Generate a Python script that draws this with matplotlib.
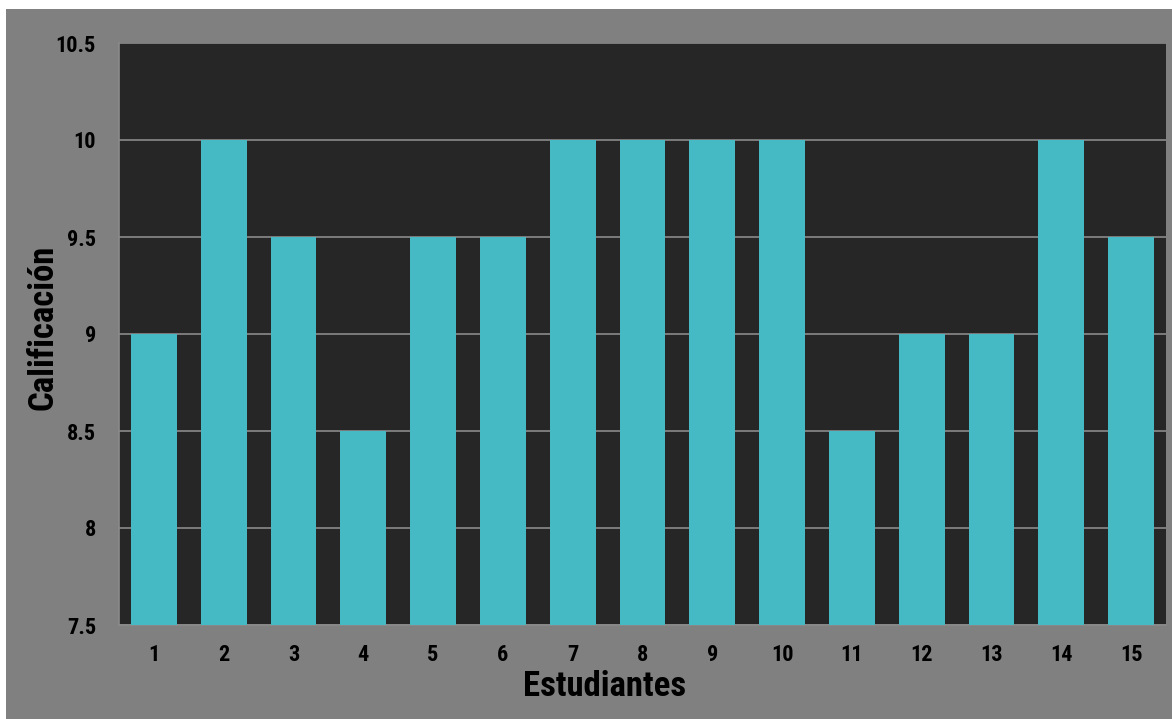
import matplotlib
matplotlib.use("Agg")
import matplotlib.pyplot as plt
from matplotlib.patches import Rectangle

estudiantes = [str(i) for i in range(1, 16)]
calificaciones = [9, 10, 9.5, 8.5, 9.5, 9.5, 10, 10, 10, 10, 8.5, 9, 9, 10, 9.5]
y_ticks = [7.5, 8, 8.5, 9, 9.5, 10, 10.5]
y_tick_labels = ["7.5", "8", "8.5", "9", "9.5", "10", "10.5"]

FONT = ["Roboto Condensed", "DejaVu Sans"]

W, H = 1172, 719
fig = plt.figure(figsize=(W / 100, H / 100), dpi=100, facecolor="white")
fig.patches.append(Rectangle((6 / W, 0), 1 - 6 / W, (H - 9) / H,
                             transform=fig.transFigure, facecolor="#808080",
                             edgecolor="none", zorder=-10))

ax = fig.add_axes([119 / W, 94 / H, 1047 / W, 582 / H])
ax.set_facecolor("#262626")

x = range(len(estudiantes))
ax.bar(x, calificaciones, width=0.655, color="#45BAC4", zorder=3)
ax.set_xlim(-0.5, len(estudiantes) - 0.5)
ax.set_ylim(7.5, 10.5)

ax.set_yticks(y_ticks)
ax.set_yticklabels(y_tick_labels)
ax.set_xticks(list(x))
ax.set_xticklabels(estudiantes)
ax.yaxis.grid(True, color="#8a8a8a", linewidth=1.2, zorder=1)
ax.set_axisbelow(True)
ax.tick_params(length=0)
ax.tick_params(axis="y", pad=16.5)
ax.tick_params(axis="x", pad=13.5)
for lab in ax.get_xticklabels() + ax.get_yticklabels():
    lab.set_fontfamily(FONT)
    lab.set_fontweight("bold")
    lab.set_fontsize(16)
    lab.set_color("black")

for side in ["top", "right"]:
    ax.spines[side].set_visible(False)
for side in ["left", "bottom"]:
    ax.spines[side].set_color("#8a8a8a")
    ax.spines[side].set_linewidth(1.2)

ax.set_xlabel("Estudiantes", fontsize=25, fontweight="bold",
              family=FONT, va="center", color="black")
ax.set_ylabel("Calificación", fontsize=25, fontweight="bold",
              family=FONT, va="center", color="black")
ax.xaxis.set_label_coords(0.464, -0.105)
ax.yaxis.set_label_coords(-0.073, 0.511)

fig.savefig("out.png", dpi=100, facecolor=fig.get_facecolor())
